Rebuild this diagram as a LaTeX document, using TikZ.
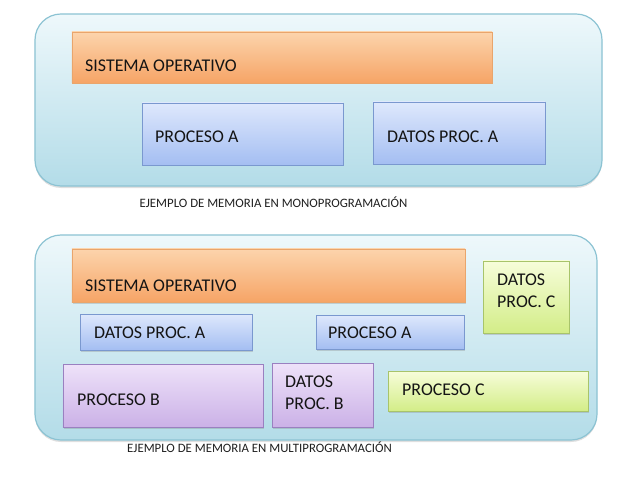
\documentclass[tikz,border=0pt]{standalone}
\usepackage{fontspec}
\setmainfont{Carlito}
\usetikzlibrary{positioning,shadows}

\definecolor{memtop}{HTML}{EEF8FB}
\definecolor{membot}{HTML}{B3DCE8}
\definecolor{memline}{HTML}{8CC3D3}
\definecolor{sotop}{HTML}{FCD4AC}
\definecolor{sobot}{HTML}{F6A466}
\definecolor{soline}{HTML}{E9A56C}
\definecolor{protop}{HTML}{DEE8FC}
\definecolor{probot}{HTML}{A4BEF2}
\definecolor{proline}{HTML}{7A98CF}
\definecolor{bvtop}{HTML}{EEE2F9}
\definecolor{bvbot}{HTML}{CBB1E7}
\definecolor{bvline}{HTML}{9A80C0}
\definecolor{cvtop}{HTML}{F7FDDA}
\definecolor{cvbot}{HTML}{D3ED88}
\definecolor{cvline}{HTML}{A8C46A}

\begin{document}
\begin{tikzpicture}[x=1bp,y=-1bp,
  mem/.style={draw=memline,line width=1.2bp,rounded corners=26bp,
    top color=memtop,bottom color=membot,
    drop shadow={shadow xshift=0bp,shadow yshift=-2bp,opacity=0.25}},
  blk/.style={line width=0.8bp,inner sep=0pt,
    drop shadow={shadow xshift=1.2bp,shadow yshift=-1.5bp,opacity=0.3}},
  sobox/.style={blk,draw=soline,top color=sotop,bottom color=sobot},
  probox/.style={blk,draw=proline,top color=protop,bottom color=probot},
  bbox/.style={blk,draw=bvline,top color=bvtop,bottom color=bvbot},
  cbox/.style={blk,draw=cvline,top color=cvtop,bottom color=cvbot},
  txt/.style={inner sep=0pt,anchor=base west,align=left,text=black!92,
    font=\fontsize{17.9bp}{22bp}\selectfont},
  capline/.style={inner sep=0pt,text=black!88,font=\fontsize{12.8bp}{15bp}\selectfont}]
  \useasboundingbox (0,0) rectangle (642,478);
  % monoprogramacion
  \node[mem,minimum width=567bp,minimum height=172bp] (mono) at (318.5,100) {};
  \node[sobox,minimum width=420bp,minimum height=51bp] (so1) at (282,57.5) {};
  \node[probox,minimum width=201bp,minimum height=62bp] (pa1) at (242.5,134) {};
  \node[probox,minimum width=172bp,minimum height=62bp] (da1) at (459,133) {};
  \node[txt] (so1t) at (85,71.5) {SISTEMA OPERATIVO};
  \node[txt] (pa1t) at (155,143) {PROCESO A};
  \node[txt] (da1t) at (387,143) {DATOS PROC. A};
  \node[capline] (monot) at (273.5,202) {EJEMPLO DE MEMORIA EN MONOPROGRAMACIÓN};
  % multiprogramacion
  \node[mem,minimum width=562bp,minimum height=205bp] (multi) at (316,337.5) {};
  \node[sobox,minimum width=393bp,minimum height=53bp] (so2) at (268.5,275.5) {};
  \node[cbox,minimum width=86bp,minimum height=72bp] (dc2) at (526,297) {};
  \node[probox,minimum width=172bp,minimum height=36bp] (da2) at (166,332) {};
  \node[probox,minimum width=148bp,minimum height=34bp] (pa2) at (390,332) {};
  \node[bbox,minimum width=200bp,minimum height=63bp] (pb2) at (163,395.5) {};
  \node[bbox,minimum width=101bp,minimum height=64bp] (db2) at (322.5,395) {};
  \node[cbox,minimum width=200bp,minimum height=40bp] (pc2) at (488,391) {};
  \node[txt] (so2t) at (85,291) {SISTEMA OPERATIVO};
  \node[txt] (dc2t) at (497,307) {DATOS\\PROC. C};
  \node[txt] (da2t) at (94,338) {DATOS PROC. A};
  \node[txt] (pa2t) at (328,338) {PROCESO A};
  \node[txt] (pb2t) at (77,405) {PROCESO B};
  \node[txt] (db2t) at (285,409) {DATOS\\PROC. B};
  \node[txt] (pc2t) at (402,395) {PROCESO C};
  \node[capline] (multit) at (259.5,447) {EJEMPLO DE MEMORIA EN MULTIPROGRAMACIÓN};
\end{tikzpicture}
\end{document}
